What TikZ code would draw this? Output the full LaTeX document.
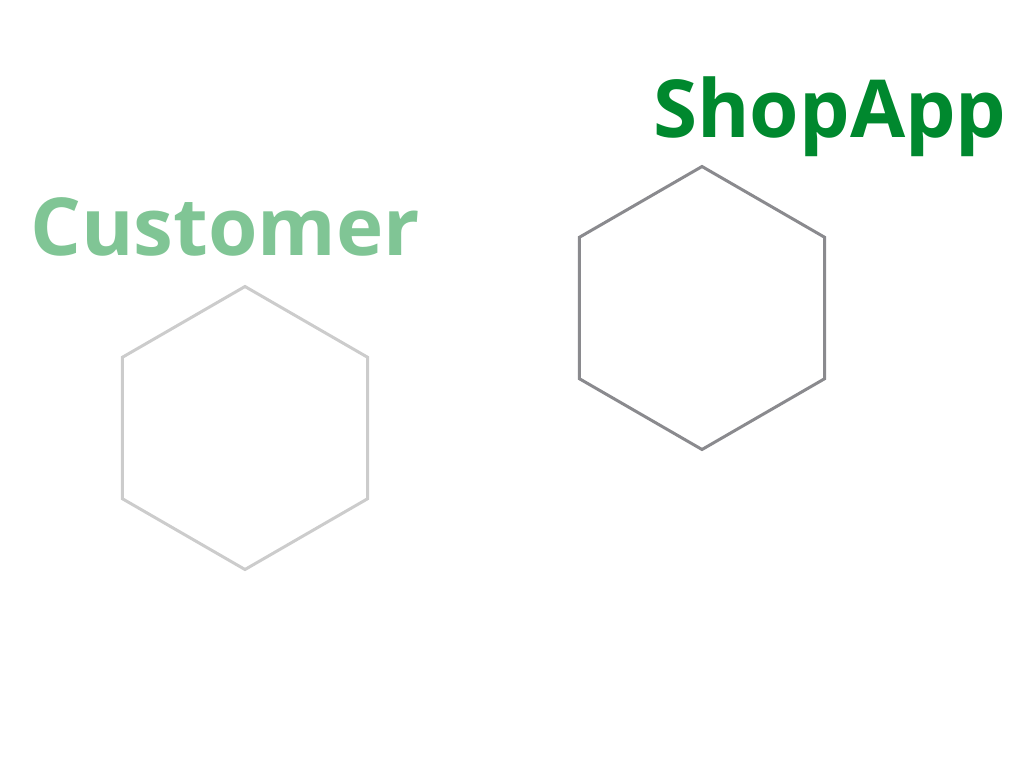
\documentclass[tikz,border=0pt]{standalone}
\usepackage{fontspec}
\setmainfont{Open Sans}
\usetikzlibrary{shapes.geometric,positioning}
\definecolor{lightgreen}{RGB}{128,197,149}
\definecolor{darkgreen}{RGB}{0,136,46}
\definecolor{lightgray}{RGB}{204,204,204}
\definecolor{darkgray}{RGB}{138,138,142}

\begin{document}
\begin{tikzpicture}[x=1pt,y=-1pt]
\tikzstyle{hexa}=[regular polygon, regular polygon sides=6, regular polygon rotate=30, minimum size=283pt, inner sep=0pt, line width=3pt]
\tikzstyle{title}=[anchor=base west, inner sep=0pt, font=\fontsize{80}{88}\selectfont\bfseries]
\useasboundingbox (0,0) rectangle (1024,768);
\node [hexa, draw=lightgray] (customer) at (245,428) {};
\node [hexa, draw=darkgray] (shopapp) at (702,308) {};
\node [title, text=lightgreen] (customerlabel) at (30,255) {Customer};
\node [title, text=darkgreen] (shopapplabel) at (653,137) {ShopApp};
\end{tikzpicture}
\end{document}
